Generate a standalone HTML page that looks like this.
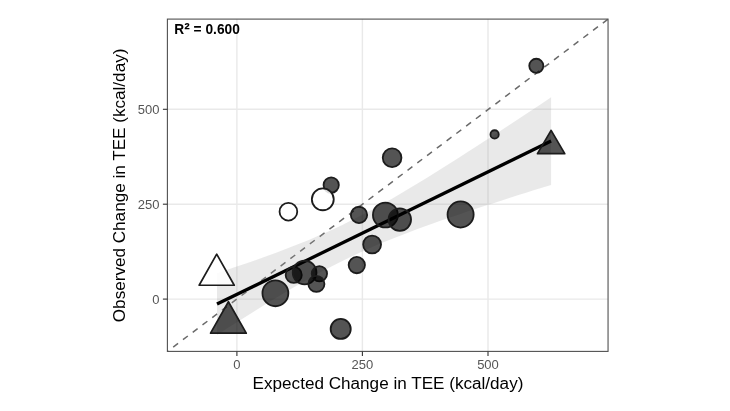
<!DOCTYPE html>
<html lang="en"><head><meta charset="utf-8"><title>TEE chart</title>
<style>
html,body{margin:0;padding:0;background:#fff;}
body{width:730px;height:411px;overflow:hidden;}
svg{display:block;}
text{font-family:"Liberation Sans",Arial,Helvetica,sans-serif;}
.tk{font-size:13px;fill:#555;}
.tt{font-size:16px;fill:#000;}
.r2{font-size:14px;font-weight:bold;fill:#000;}
</style></head><body>
<svg width="730" height="411" viewBox="0 0 730 411">
<rect width="730" height="411" fill="#fff"/>
<line x1="236.9" x2="236.9" y1="19.1" y2="351.4" stroke="#e9e9e9" stroke-width="1.4"/>
<line y1="299.1" y2="299.1" x1="167.4" x2="608.05" stroke="#e9e9e9" stroke-width="1.4"/>
<line x1="362.4" x2="362.4" y1="19.1" y2="351.4" stroke="#e9e9e9" stroke-width="1.4"/>
<line y1="204.2" y2="204.2" x1="167.4" x2="608.05" stroke="#e9e9e9" stroke-width="1.4"/>
<line x1="488.0" x2="488.0" y1="19.1" y2="351.4" stroke="#e9e9e9" stroke-width="1.4"/>
<line y1="109.3" y2="109.3" x1="167.4" x2="608.05" stroke="#e9e9e9" stroke-width="1.4"/>
<line x1="167.4" y1="351.4" x2="608.05" y2="19.1" stroke="#6a6a6a" stroke-width="1.5" stroke-dasharray="6.1 6.13" stroke-dashoffset="4.97"/>
<polygon points="217.0,273.2 225.4,270.4 233.7,267.6 242.1,264.8 250.4,261.9 258.8,259.0 267.1,256.0 275.5,252.9 283.8,249.8 292.2,246.6 300.5,243.3 308.9,239.9 317.2,236.3 325.6,232.7 333.9,228.9 342.3,224.9 350.6,220.8 359.0,216.6 367.3,212.3 375.7,207.7 384.1,203.1 392.4,198.4 400.8,193.5 409.1,188.6 417.5,183.5 425.8,178.4 434.2,173.3 442.5,168.1 450.9,162.8 459.2,157.5 467.6,152.1 475.9,146.7 484.3,141.3 492.6,135.9 501.0,130.4 509.3,125.0 517.7,119.5 526.0,114.0 534.4,108.4 542.7,102.9 551.1,97.3 551.1,184.9 542.7,187.5 534.4,190.1 526.0,192.7 517.7,195.3 509.3,198.0 501.0,200.7 492.6,203.4 484.3,206.1 475.9,208.8 467.6,211.6 459.2,214.4 450.9,217.2 442.5,220.1 434.2,223.0 425.8,226.0 417.5,229.1 409.1,232.2 400.8,235.4 392.4,238.7 384.1,242.1 375.7,245.6 367.3,249.2 359.0,253.0 350.6,257.0 342.3,261.0 333.9,265.2 325.6,269.6 317.2,274.1 308.9,278.7 300.5,283.4 292.2,288.3 283.8,293.2 275.5,298.2 267.1,303.3 258.8,308.5 250.4,313.7 242.1,319.0 233.7,324.3 225.4,329.6 217.0,335.0" fill="#999" fill-opacity="0.22"/>
<line x1="217.0" y1="304.1" x2="551.1" y2="141.1" stroke="#000" stroke-width="3.3"/>
<circle cx="331.2" cy="185.1" r="7.65" fill="#000" fill-opacity="0.67" stroke="#1c1c1c" stroke-width="1.8"/>
<circle cx="288.4" cy="211.7" r="8.85" fill="#fff" fill-opacity="0.85" stroke="#1c1c1c" stroke-width="1.8"/>
<circle cx="322.8" cy="199.3" r="10.95" fill="#fff" fill-opacity="0.85" stroke="#1c1c1c" stroke-width="1.8"/>
<circle cx="275.4" cy="293.3" r="12.95" fill="#000" fill-opacity="0.67" stroke="#1c1c1c" stroke-width="1.8"/>
<circle cx="293.7" cy="274.9" r="8.05" fill="#000" fill-opacity="0.67" stroke="#1c1c1c" stroke-width="1.8"/>
<circle cx="304.6" cy="272.6" r="11.85" fill="#000" fill-opacity="0.67" stroke="#1c1c1c" stroke-width="1.8"/>
<circle cx="319.4" cy="273.7" r="7.65" fill="#000" fill-opacity="0.67" stroke="#1c1c1c" stroke-width="1.8"/>
<circle cx="316.4" cy="283.9" r="8.05" fill="#000" fill-opacity="0.67" stroke="#1c1c1c" stroke-width="1.8"/>
<circle cx="340.7" cy="328.9" r="10.05" fill="#000" fill-opacity="0.67" stroke="#1c1c1c" stroke-width="1.8"/>
<circle cx="392.1" cy="157.7" r="9.35" fill="#000" fill-opacity="0.67" stroke="#1c1c1c" stroke-width="1.8"/>
<circle cx="359.0" cy="214.9" r="8.15" fill="#000" fill-opacity="0.67" stroke="#1c1c1c" stroke-width="1.8"/>
<circle cx="385.4" cy="215.0" r="12.45" fill="#000" fill-opacity="0.67" stroke="#1c1c1c" stroke-width="1.8"/>
<circle cx="399.8" cy="219.6" r="11.25" fill="#000" fill-opacity="0.67" stroke="#1c1c1c" stroke-width="1.8"/>
<circle cx="372.1" cy="244.5" r="8.95" fill="#000" fill-opacity="0.67" stroke="#1c1c1c" stroke-width="1.8"/>
<circle cx="356.8" cy="265.1" r="8.15" fill="#000" fill-opacity="0.67" stroke="#1c1c1c" stroke-width="1.8"/>
<circle cx="460.6" cy="214.5" r="13.05" fill="#000" fill-opacity="0.67" stroke="#1c1c1c" stroke-width="1.8"/>
<circle cx="494.6" cy="134.4" r="4.15" fill="#000" fill-opacity="0.67" stroke="#1c1c1c" stroke-width="1.8"/>
<circle cx="536.3" cy="65.8" r="7.05" fill="#000" fill-opacity="0.67" stroke="#1c1c1c" stroke-width="1.8"/>
<polygon points="216.7,254.15 199.15,285.25 234.25,285.25" fill="#fff" fill-opacity="0.85" stroke="#1c1c1c" stroke-width="1.7" stroke-linejoin="round"/>
<polygon points="228.4,301.75 210.55,333.15 246.25,333.15" fill="#000" fill-opacity="0.67" stroke="#1c1c1c" stroke-width="1.7" stroke-linejoin="round"/>
<polygon points="551.1,130.35 537.45,153.65 564.75,153.65" fill="#000" fill-opacity="0.67" stroke="#1c1c1c" stroke-width="1.7" stroke-linejoin="round"/>
<rect x="167.4" y="19.1" width="440.65" height="332.29999999999995" fill="none" stroke="#505050" stroke-width="1.1"/>
<line x1="236.9" x2="236.9" y1="351.4" y2="355.9" stroke="#333" stroke-width="1.1"/>
<line y1="299.1" y2="299.1" x1="162.9" x2="167.4" stroke="#333" stroke-width="1.1"/>
<text x="236.9" y="369.0" text-anchor="middle" class="tk">0</text>
<text x="159.4" y="304.0" text-anchor="end" class="tk">0</text>
<line x1="362.4" x2="362.4" y1="351.4" y2="355.9" stroke="#333" stroke-width="1.1"/>
<line y1="204.2" y2="204.2" x1="162.9" x2="167.4" stroke="#333" stroke-width="1.1"/>
<text x="362.4" y="369.0" text-anchor="middle" class="tk">250</text>
<text x="159.4" y="209.1" text-anchor="end" class="tk">250</text>
<line x1="488.0" x2="488.0" y1="351.4" y2="355.9" stroke="#333" stroke-width="1.1"/>
<line y1="109.3" y2="109.3" x1="162.9" x2="167.4" stroke="#333" stroke-width="1.1"/>
<text x="488.0" y="369.0" text-anchor="middle" class="tk">500</text>
<text x="159.4" y="114.2" text-anchor="end" class="tk">500</text>
<text x="388" y="388.5" text-anchor="middle" class="tt" textLength="270.8" lengthAdjust="spacingAndGlyphs">Expected Change in TEE (kcal/day)</text>
<text transform="translate(124.5,185.4) rotate(-90)" text-anchor="middle" class="tt" textLength="273.6" lengthAdjust="spacingAndGlyphs">Observed Change in TEE (kcal/day)</text>
<text x="174.3" y="33.9" class="r2" textLength="65.5" lengthAdjust="spacingAndGlyphs">R<tspan font-size="17" dy="1.3">²</tspan><tspan dy="-1.3"> = 0.600</tspan></text>
</svg>
</body></html>
